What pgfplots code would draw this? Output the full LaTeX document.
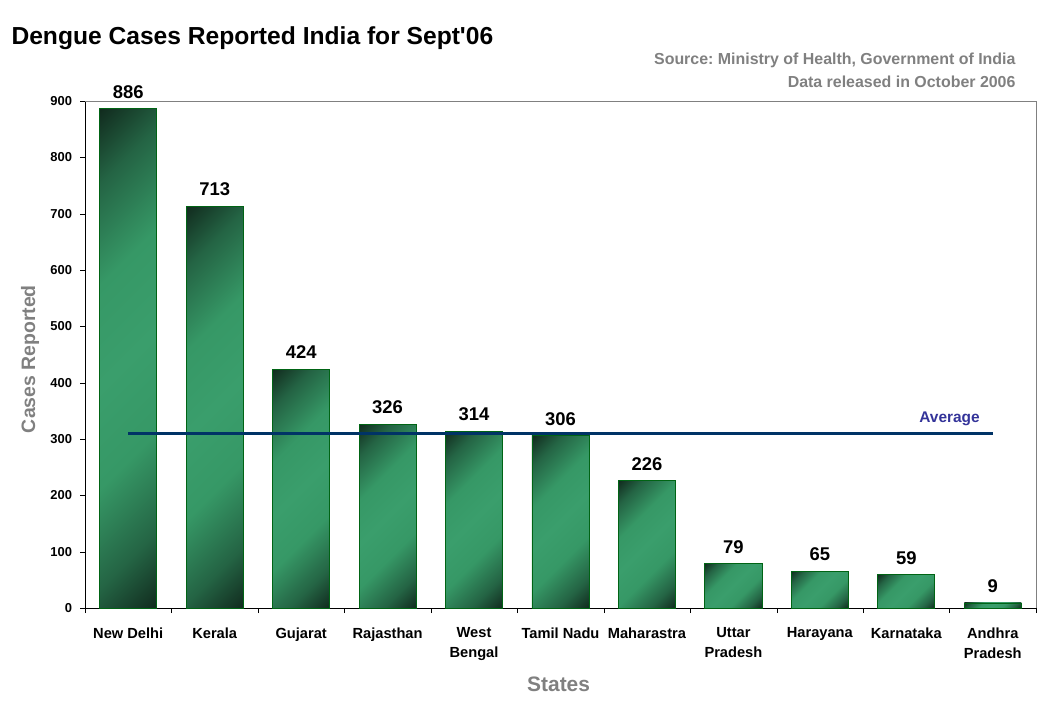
\documentclass[border=0pt]{standalone}
\usepackage{fontspec}
\setmainfont{Liberation Sans}
\usepackage{pgfplots}
\pgfplotsset{compat=1.18}
\definecolor{bardark}{RGB}{16,40,28}
\definecolor{barmid}{RGB}{36,100,68}
\definecolor{bargreen}{RGB}{54,152,102}
\definecolor{barlight}{RGB}{58,158,108}
\definecolor{baredge}{RGB}{0,100,20}
\definecolor{avgline}{RGB}{0,51,102}
\definecolor{avgtext}{RGB}{51,51,153}
\definecolor{txtgray}{RGB}{128,128,128}
\pgfdeclarehorizontalshading{barshade}{100bp}{color(0bp)=(bardark); color(14bp)=(bardark); color(24bp)=(barmid); color(37bp)=(bargreen); color(50bp)=(barlight); color(63bp)=(bargreen); color(76bp)=(barmid); color(86bp)=(bardark); color(100bp)=(bardark)}
\pgfplotstableread{
x cases
0 886
1 713
2 424
3 326
4 314
5 306
6 226
7 79
8 65
9 59
10 9
}\dengue
\begin{document}
\frenchspacing
\begin{tikzpicture}
\useasboundingbox (0,0) rectangle (1044bp,712bp);
\begin{axis}[
  at={(85bp,104bp)}, anchor=south west,
  scale only axis, width=951bp, height=507bp,
  xmin=-0.5, xmax=10.5, ymin=0, ymax=900,
  clip=false,
  axis lines=left, axis line style={-, black},
  /pgf/number format/assume math mode=true,
  xtick={0,...,10},
  xticklabels={New Delhi, Kerala, Gujarat, Rajasthan, {West\\Bengal}, Tamil Nadu, Maharastra, {Uttar\\Pradesh}, Harayana, Karnataka, {Andhra\\Pradesh}},
  minor xtick={-0.5,0.5,...,10.5},
  major x tick style={draw=none},
  minor x tick style={black},
  ytick={0,100,...,900},
  tick align=outside,
  major tick length=5bp, minor tick length=5bp,
  tick style={black},
  xticklabel style={font=\bfseries\fontsize{14.7}{20}\selectfont, align=center, yshift=-11bp},
  yticklabel style={font=\bfseries\fontsize{13}{15}\selectfont, xshift=-4.5bp},
  xlabel={States}, ylabel={Cases Reported},
  xlabel style={at={(axis description cs:0.498,-0.151)}, anchor=center, font=\bfseries\fontsize{21}{24}\selectfont, text=txtgray},
  ylabel style={at={(axis description cs:-0.0578,0.491)}, anchor=center, rotate=0, font=\bfseries\fontsize{19.5}{24}\selectfont, text=txtgray},
]
\pgfplotsinvokeforeach{0,...,10}{
\addplot[ybar, bar width=0.66, draw=baredge, line width=0.8bp,
  shading=barshade, shading angle=-45,
  nodes near coords,
  nodes near coords style={font=\bfseries\fontsize{18.5}{20}\selectfont, black, anchor=south, yshift=6.5bp},
  restrict expr to domain={\coordindex}{#1:#1}]
  table[x=x, y=cases] {\dengue};
}
\addplot[avgline, line width=2.8bp, no markers] coordinates {(0,309.7) (10,309.7)};
\node[anchor=base, font=\bfseries\fontsize{15.5}{18}\selectfont, text=avgtext] at (axis cs:9.5,328.4) {Average};
\draw[txtgray, line width=0.8bp] (rel axis cs:0,1) -- (rel axis cs:1,1) -- (rel axis cs:1,0);
\end{axis}
\node[anchor=base west, font=\bfseries\fontsize{24.7}{28}\selectfont] at (8bp,667bp) {Dengue Cases Reported India for Sept\textquotesingle06};
\node[anchor=base east, font=\bfseries\fontsize{16}{18}\selectfont, text=txtgray] at (1019bp,647.5bp) {Source: Ministry of Health, Government of India};
\node[anchor=base east, font=\bfseries\fontsize{16}{18}\selectfont, text=txtgray] at (1019bp,624.5bp) {Data released in October 2006};
\end{tikzpicture}
\end{document}
